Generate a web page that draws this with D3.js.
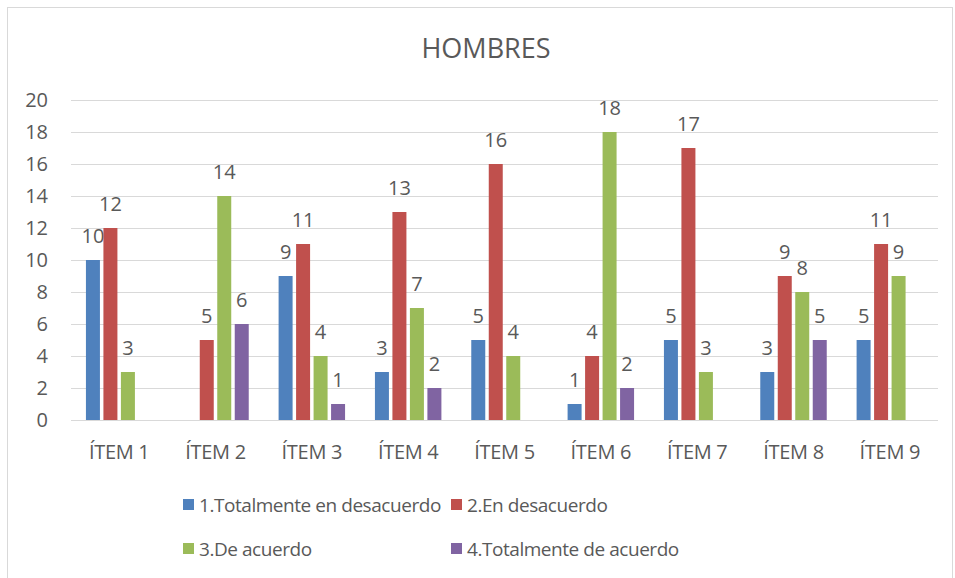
<!DOCTYPE html>
<html><head><meta charset="utf-8">
<script src="https://cdn.jsdelivr.net/npm/d3@7"></script>
<style>body{margin:0;background:#fff}svg{display:block}text{font-family:"Open Sans",sans-serif;fill:#595959}</style>
</head><body><svg id="c" width="955" height="578"></svg>
<script>
const categories = ["ÍTEM 1","ÍTEM 2","ÍTEM 3","ÍTEM 4","ÍTEM 5","ÍTEM 6","ÍTEM 7","ÍTEM 8","ÍTEM 9"];
const seriesNames = ["1.Totalmente en desacuerdo","2.En desacuerdo","3.De acuerdo","4.Totalmente de acuerdo"];
const s1 = [10, null, 9, 3, 5, 1, 5, 3, 5];
const s2 = [12, 5, 11, 13, 16, 4, 17, 9, 11];
const s3 = [3, 14, 4, 7, 4, 18, 3, 8, 9];
const s4 = [null, 6, 1, 2, null, 2, null, 5, null];
const yTicks = [0,2,4,6,8,10,12,14,16,18,20];
const colors = ["#4F81BD","#C0504D","#9BBB59","#8064A2"];
const series = [s1,s2,s3,s4];

const svg = d3.select("#c");
svg.append("rect").attr("x",7.5).attr("y",7.5).attr("width",945).attr("height",575).attr("fill","#fff").attr("stroke","#D9D9D9");

const m = {l:71, r:938, t:100, b:420};
const x = d3.scaleBand().domain(categories).range([m.l,m.r]);
const y = d3.scaleLinear().domain([0,20]).range([m.b,m.t]);
const inner = d3.scaleBand().domain(d3.range(4)).range([x.bandwidth()*0.155, x.bandwidth()*0.845]).paddingInner(0.2);

svg.append("g").selectAll("line").data(yTicks).join("line")
  .attr("x1",m.l).attr("x2",m.r).attr("y1",d=>y(d)+0.5).attr("y2",d=>y(d)+0.5)
  .attr("stroke","#D9D9D9").attr("stroke-width",1);

const yAxis = svg.append("g").attr("transform",`translate(${m.l},0)`)
  .call(d3.axisLeft(y).tickValues(yTicks).tickSize(0).tickPadding(23));
yAxis.select(".domain").remove();
yAxis.selectAll("text").style("font-size","20px").attr("fill","#595959").style("font-family","'Open Sans',sans-serif");

const xAxis = svg.append("g").attr("transform",`translate(0,${m.b})`)
  .call(d3.axisBottom(x).tickSize(0).tickPadding(25));
xAxis.select(".domain").remove();
xAxis.selectAll("text").style("font-size","20px").attr("fill","#595959").style("font-family","'Open Sans',sans-serif").style("letter-spacing","-0.3px");

series.forEach((vals,si)=>{
  const g = svg.append("g");
  const data = vals.map((v,i)=>({c:categories[i],v})).filter(d=>d.v!=null);
  g.selectAll("rect").data(data).join("rect")
    .attr("x",d=>x(d.c)+inner(si)).attr("width",inner.bandwidth())
    .attr("y",d=>y(d.v)).attr("height",d=>y(0)-y(d.v))
    .attr("fill",colors[si]);
  g.selectAll("text").data(data).join("text")
    .attr("x",d=>x(d.c)+inner(si)+inner.bandwidth()/2).attr("y",d=>y(d.v)-17)
    .attr("text-anchor","middle").style("font-size","20px").text(d=>d.v);
});

svg.append("text").attr("x",486).attr("y",58).attr("text-anchor","middle").style("font-size","27px").text("HOMBRES");

const legPos = [[183,505],[451,505],[183,549],[451,549]];
seriesNames.forEach((n,i)=>{
  const [lx,ly] = legPos[i];
  svg.append("rect").attr("x",lx).attr("y",ly-6).attr("width",11).attr("height",11).attr("fill",colors[i]);
  svg.append("text").attr("x",lx+16).attr("y",ly+7).style("font-size","19px").style("letter-spacing","-0.45px").text(n);
});
</script></body></html>
